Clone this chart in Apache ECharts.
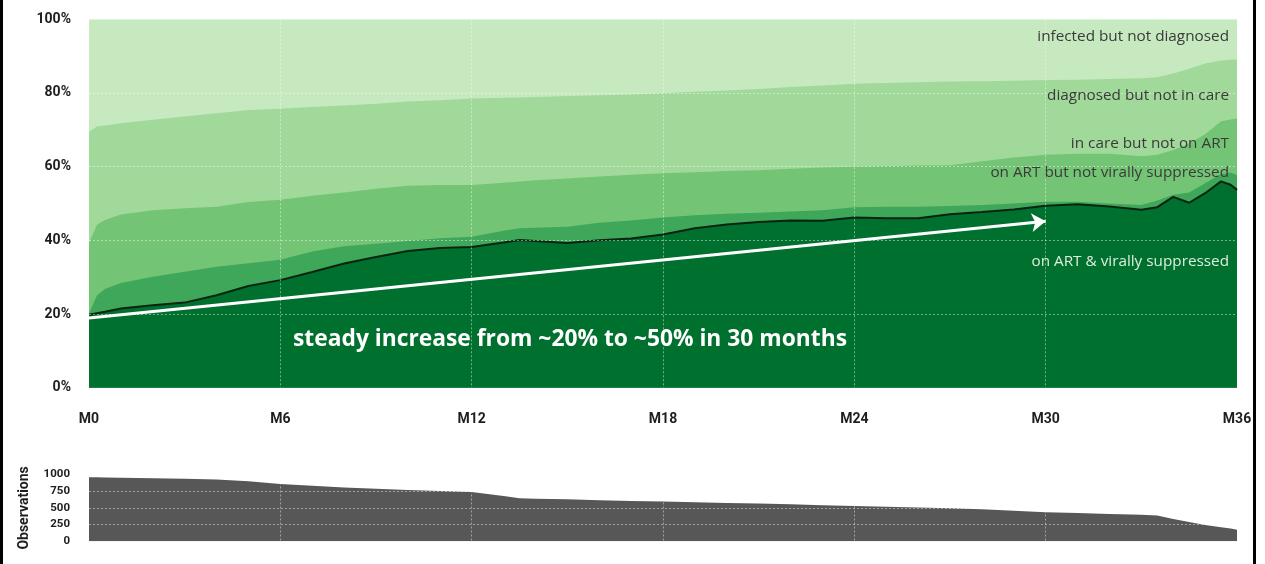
<!DOCTYPE html>
<html>
<head>
<meta charset="utf-8">
<script src="https://cdn.jsdelivr.net/npm/echarts@6/dist/echarts.min.js"></script>
<style>
html,body{margin:0;padding:0;background:#fff;}
#chart{width:1265px;height:564px;}
</style>
</head>
<body>
<div id="chart"></div>
<script>
// months since start (M0 ... M36)
var months = [0, 0.25, 0.5, 1, 2, 3, 4, 5, 6, 7, 8, 9, 10, 11, 12, 13, 13.5, 14, 15, 16, 17, 18, 19, 20, 21, 22, 23, 24, 25, 26, 27, 28, 29, 30, 31, 32, 33, 33.5, 34, 34.5, 35, 35.5, 35.8, 36];
// cumulative share (%) at or beyond each cascade stage
var infectedTop = [100,100,100,100,100,100,100,100,100,100,100,100,100,100,100,100,100,100,100,100,100,100,100,100,100,100,100,100,100,100,100,100,100,100,100,100,100,100,100,100,100,100,100,100];
var diagnosedTop = [69.5,70.9,71.2,71.8,72.7,73.6,74.5,75.4,75.7,76.2,76.6,77.1,77.7,78.0,78.5,78.7,78.8,78.9,79.2,79.4,79.6,79.9,80.3,80.7,81.1,81.6,82.0,82.5,82.7,82.9,83.1,83.2,83.3,83.5,83.6,83.8,84.0,84.3,85.3,86.6,88.0,88.8,89.0,89.1];
var inCareTop = [39.2,44.2,45.5,47.0,48.2,48.7,49.1,50.4,51.0,52.1,53.0,54.0,54.8,55.0,55.0,55.6,56.0,56.3,56.8,57.3,57.8,58.2,58.5,58.8,59.0,59.4,59.8,60.0,60.1,60.3,60.4,61.5,62.5,63.2,63.5,63.5,62.8,63.2,64.5,66.3,68.8,72.3,72.8,73.1];
var onArtTop = [20.2,25.0,26.8,28.4,30.1,31.5,32.8,33.8,34.7,37.0,38.4,39.1,39.8,40.6,41.0,42.6,43.3,43.4,43.7,44.8,45.4,46.2,46.8,47.2,47.5,47.8,48.2,49.0,49.1,49.1,49.3,49.6,50.0,50.5,50.5,50.0,49.6,50.8,52.4,53.0,55.5,58.0,58.4,57.7];
var suppressedTop = [19.8,20.2,20.6,21.5,22.4,23.1,25.1,27.6,29.2,31.4,33.7,35.5,37.1,37.9,38.2,39.4,40.1,39.8,39.3,40.0,40.5,41.6,43.3,44.3,45.0,45.4,45.3,46.2,46.0,46.0,47.1,47.7,48.4,49.4,49.8,49.2,48.3,49.0,51.8,50.2,52.8,56.0,55.1,53.7];
// number of observations
var observations = [960,958,956,952,945,935,925,900,858,830,805,785,768,752,738,680,644,638,628,616,605,594,585,575,565,553,541,529,518,507,496,478,458,436,423,410,398,385,332,290,245,210,190,172];

var monthTicks = [0, 6, 12, 18, 24, 30, 36];
var pctTicks = [0, 20, 40, 60, 80, 100];
var obsTicks = [0, 250, 500, 750, 1000];
var stageNames = ['infected but not diagnosed','diagnosed but not in care','in care but not on ART','on ART but not virally suppressed','on ART & virally suppressed'];
var arrowFrom = [0, 18.9], arrowTo = [30, 45.2];
var arrowText = 'steady increase from ~20% to ~50% in 30 months';

function pairs(arr){ return months.map(function(m,i){ return [m, arr[i]]; }); }

var axisFont = "Roboto, 'DejaVu Sans', sans-serif";
var labelFont = "'Open Sans', Lato, sans-serif";
var colors = ['#c7e9c0','#a1d99b','#74c476','#3ea75a','#00702e'];
var layers = [infectedTop, diagnosedTop, inCareTop, onArtTop, suppressedTop];

var chart = echarts.init(document.getElementById('chart'));
var series = layers.map(function(arr, i){
  return {
    name: stageNames[i], type: 'line', xAxisIndex: 0, yAxisIndex: 0,
    data: pairs(arr), symbol: 'none', showSymbol: false, smooth: false,
    lineStyle: i === 4 ? {width: 2, color: '#0b2412'} : {width: 0},
    areaStyle: {color: colors[i], opacity: 1},
    z: 2 + i, animation: false, silent: true
  };
});
series.push({
  name: 'arrow', type: 'lines', coordinateSystem: 'cartesian2d', xAxisIndex: 0, yAxisIndex: 0,
  data: [{coords: [arrowFrom, arrowTo]}], symbol: ['none', 'arrow'], symbolSize: 14,
  lineStyle: {color: '#ffffff', width: 3, opacity: 1, curveness: 0},
  z: 20, animation: false, silent: true
});
series.push({
  name: 'Observations', type: 'line', xAxisIndex: 1, yAxisIndex: 1,
  data: pairs(observations), symbol: 'none', showSymbol: false,
  lineStyle: {width: 0}, areaStyle: {color: '#575757', opacity: 1},
  animation: false, silent: true
});

var labelY = [37, 96, 144, 173, 262];
var graphics = stageNames.map(function(t, i){
  return {type: 'text', x: 1229, y: labelY[i], z: 100,
    style: {text: t, fill: i === 4 ? '#dcefdc' : '#3a3a3a', font: '15.3px ' + labelFont,
      textAlign: 'right', textVerticalAlign: 'middle'}};
});
graphics.push({type: 'text', x: 293, y: 340, z: 100,
  style: {text: arrowText, fill: '#ffffff', font: 'bold 22.8px ' + labelFont, textAlign: 'left', textVerticalAlign: 'middle'}});
graphics.push({type: 'rect', shape: {x: 0, y: 0, width: 3, height: 564}, style: {fill: '#000'}, z: 100});
graphics.push({type: 'rect', shape: {x: 1253, y: 0, width: 3, height: 564}, style: {fill: '#000'}, z: 100});

var gridLine = {show: true, showMinLine: false, showMaxLine: false, lineStyle: {color: 'rgba(255,255,255,0.45)', type: [2, 2], width: 1}};

chart.setOption({
  backgroundColor: '#ffffff',
  animation: false,
  grid: [
    {left: 89, right: 28, top: 19.3, height: 368.4},
    {left: 89, right: 28, top: 474.5, height: 66.8}
  ],
  xAxis: [
    {type: 'value', gridIndex: 0, min: 0, max: 36, interval: 6, z: 10,
      axisLine: {show: false}, axisTick: {show: false}, splitLine: gridLine,
      axisLabel: {margin: 25, formatter: function(v){ return monthTicks.indexOf(v) >= 0 ? 'M' + v : ''; },
        fontFamily: axisFont, fontWeight: 'bold', fontSize: 14, color: '#1e1e1e'}},
    {type: 'value', gridIndex: 1, min: 0, max: 36, interval: 6, z: 10,
      axisLine: {show: false}, axisTick: {show: false}, axisLabel: {show: false}, splitLine: gridLine}
  ],
  yAxis: [
    {type: 'value', gridIndex: 0, min: 0, max: 100, interval: 20, z: 10,
      axisLine: {show: false}, axisTick: {show: false}, splitLine: gridLine,
      axisLabel: {margin: 18, formatter: function(v){ return pctTicks.indexOf(v) >= 0 ? v + '%' : ''; },
        fontFamily: axisFont, fontWeight: 'bold', fontSize: 14, color: '#1e1e1e'}},
    {type: 'value', gridIndex: 1, min: 0, max: 1000, interval: 250, z: 10,
      axisLine: {show: false}, axisTick: {show: false}, splitLine: gridLine,
      name: 'Observations', nameLocation: 'middle', nameRotate: 90, nameGap: 58,
      nameTextStyle: {fontFamily: axisFont, fontWeight: 'bold', fontSize: 14, color: '#1e1e1e'},
      axisLabel: {margin: 19, formatter: function(v){ return obsTicks.indexOf(v) >= 0 ? String(v) : ''; },
        fontFamily: axisFont, fontWeight: 'bold', fontSize: 11.5, color: '#1e1e1e'}}
  ],
  series: series,
  graphic: graphics
});
</script>
</body>
</html>
